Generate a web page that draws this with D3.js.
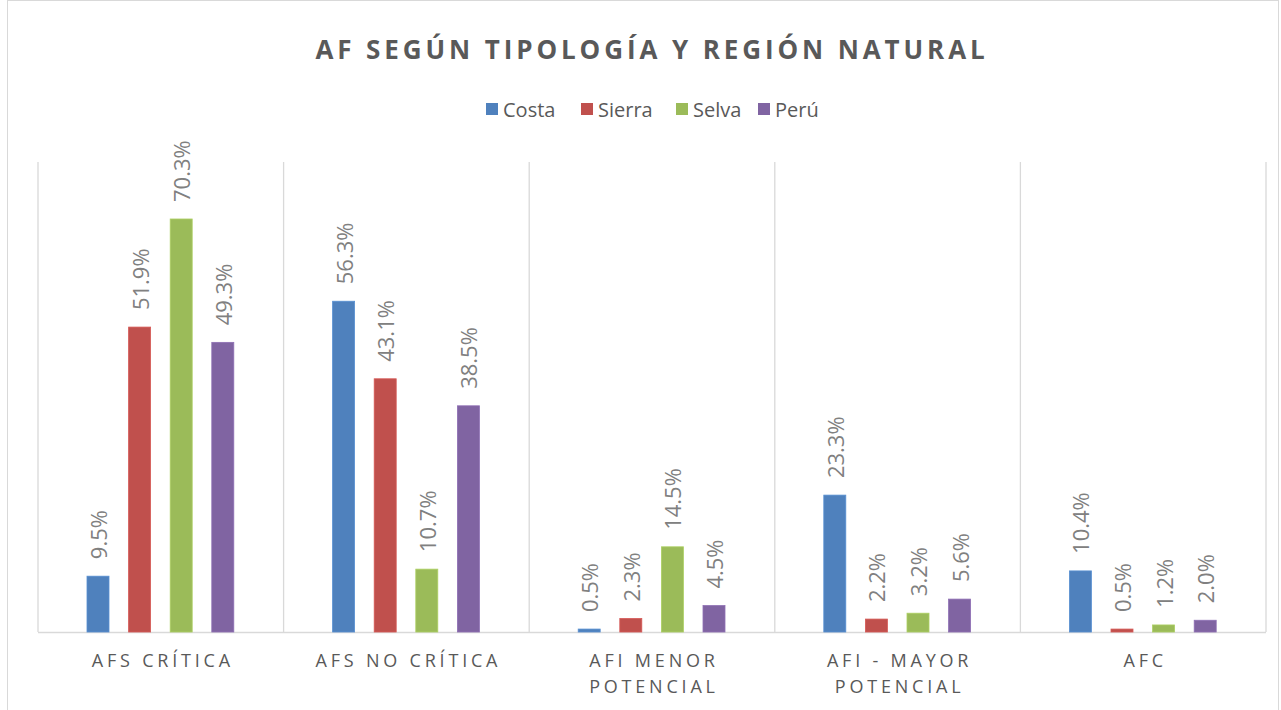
<!DOCTYPE html>
<html><head><meta charset="utf-8">
<script src="https://cdn.jsdelivr.net/npm/d3@7"></script>
<style>html,body{margin:0;padding:0;background:#fff;}</style>
</head><body>
<svg id="chart" width="1281" height="710"></svg>
<script>
const categories = [["AFS CRÍTICA"], ["AFS NO CRÍTICA"], ["AFI MENOR", "POTENCIAL"], ["AFI - MAYOR", "POTENCIAL"], ["AFC"]];
const seriesNames = ["Costa", "Sierra", "Selva", "Perú"];
const costa  = [9.5, 56.3, 0.5, 23.3, 10.4];
const sierra = [51.9, 43.1, 2.3, 2.2, 0.5];
const selva  = [70.3, 10.7, 14.5, 3.2, 1.2];
const peru   = [49.3, 38.5, 4.5, 5.6, 2.0];
const colors = ["#4F81BD", "#C0504D", "#9BBB59", "#8064A2"];
const title = "AF SEGÚN TIPOLOGÍA Y REGIÓN NATURAL";

(function () {
const series = [costa, sierra, selva, peru];
const svg = d3.select("#chart");
const font = "'Open Sans', 'Liberation Sans', sans-serif";

svg.append("rect").attr("x", 7.5).attr("y", 0.5).attr("width", 1271).attr("height", 730)
  .attr("fill", "none").attr("stroke", "#d9d9d9");

const pLeft = 38, pRight = 1266, pTop = 162, pBottom = 632;
const x0 = d3.scaleBand().domain(d3.range(categories.length)).range([pLeft, pRight]).padding(0);
const y = d3.scaleLinear().domain([0, 80]).range([pBottom, pTop]);
const x1 = d3.scaleBand().domain(d3.range(series.length)).range([49, 49 + 3 * 41.6 + 22]).paddingInner(19.6 / 41.6).paddingOuter(0);

const seps = d3.range(categories.length + 1).map(i => pLeft + i * x0.bandwidth());
svg.append("g").selectAll("line").data(seps).join("line")
  .attr("x1", d => d).attr("x2", d => d).attr("y1", pTop).attr("y2", pBottom)
  .attr("stroke", "#d9d9d9").attr("stroke-width", 1.3);
svg.append("line").attr("x1", pLeft).attr("x2", pRight).attr("y1", pBottom + 0.5).attr("y2", pBottom + 0.5)
  .attr("stroke", "#d9d9d9").attr("stroke-width", 1.5);

series.forEach((vals, si) => {
  const g = svg.append("g");
  g.selectAll("rect").data(vals).join("rect")
    .attr("x", (d, ci) => x0(ci) + x1(si))
    .attr("width", x1.bandwidth())
    .attr("y", d => y(d))
    .attr("height", d => y(0) - y(d))
    .attr("fill", colors[si])
    .attr("stroke", d3.color(colors[si]).brighter(0.3))
    .attr("stroke-width", 0.8);
  g.selectAll("text").data(vals).join("text")
    .attr("transform", (d, ci) => `translate(${x0(ci) + x1(si) + x1.bandwidth() / 2},${y(d) - 17}) rotate(-90)`)
    .attr("dominant-baseline", "central")
    .attr("text-anchor", "start")
    .attr("font-family", font).attr("font-size", 22).attr("fill", "#808080")
    .text(d => d.toFixed(1) + "%");
});

const cl = svg.append("g");
categories.forEach((lines, ci) => {
  lines.forEach((ln, li) => {
    cl.append("text")
      .attr("x", x0(ci) + x0.bandwidth() / 2 + 2)
      .attr("y", 667 + li * 26)
      .attr("text-anchor", "middle")
      .attr("font-family", font).attr("font-size", 18).attr("letter-spacing", 3.8)
      .attr("fill", "#595959")
      .text(ln);
  });
});

svg.append("text").attr("x", 652).attr("y", 59).attr("text-anchor", "middle")
  .attr("font-family", font).attr("font-size", 26).attr("font-weight", "bold")
  .attr("letter-spacing", 3.9).attr("fill", "#595959").text(title);

const legX = [486, 581, 676, 758];
const leg = svg.append("g");
seriesNames.forEach((n, i) => {
  leg.append("rect").attr("x", legX[i]).attr("y", 103).attr("width", 12).attr("height", 12).attr("fill", colors[i]);
  leg.append("text").attr("x", legX[i] + 17).attr("y", 117).attr("font-family", font)
    .attr("font-size", 20).attr("fill", "#595959").text(n);
});
})();
</script>
</body></html>
